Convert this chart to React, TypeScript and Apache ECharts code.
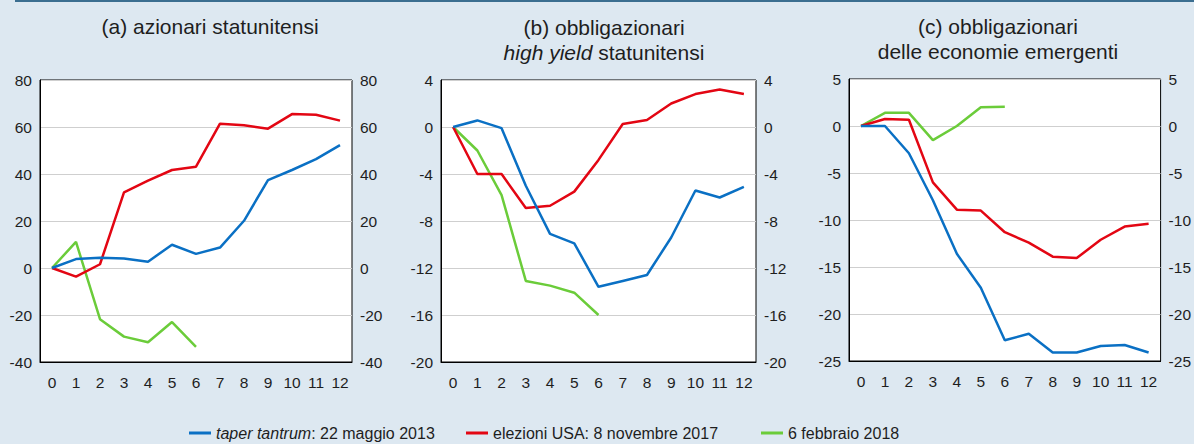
import React, { useEffect, useRef } from "react";
import * as echarts from "echarts";

const categories = ["0", "1", "2", "3", "4", "5", "6", "7", "8", "9", "10", "11", "12"];

const seriesNames = [
  "taper tantrum: 22 maggio 2013",
  "elezioni USA: 8 novembre 2017",
  "6 febbraio 2018",
];

// (a) azionari statunitensi
const aTaper = [0, 3.8, 4.4, 4.0, 2.7, 9.9, 6.0, 8.7, 20.1, 37.4, 41.7, 46.3, 52.3];
const aElezioni = [0, -3.7, 1.6, 32.2, 37.2, 41.7, 43.1, 61.4, 60.7, 59.3, 65.5, 65.2, 62.7];
const aFebbraio = [0, 11.1, -21.8, -29.2, -31.6, -23.0, -33.6];

// (b) obbligazionari high yield statunitensi
const bTaper = [0, 0.56, -0.1, -5.0, -9.1, -9.9, -13.6, -13.1, -12.6, -9.4, -5.4, -6.0, -5.1];
const bElezioni = [0, -4.0, -4.0, -6.9, -6.7, -5.5, -2.8, 0.25, 0.6, 2.0, 2.8, 3.2, 2.8];
const bFebbraio = [0, -2.0, -5.8, -13.1, -13.5, -14.1, -16.0];

// (c) obbligazionari delle economie emergenti
const cTaper = [0, 0, -2.9, -7.9, -13.6, -17.2, -22.8, -22.1, -24.1, -24.1, -23.4, -23.3, -24.1];
const cElezioni = [0, 0.75, 0.67, -6.0, -8.9, -9.0, -11.3, -12.4, -13.9, -14.05, -12.1, -10.7, -10.4];
const cFebbraio = [0, 1.4, 1.4, -1.5, 0, 2.0, 2.05];

const axisRanges = [
  { min: -40, max: 80, interval: 20 },
  { min: -20, max: 4, interval: 4 },
  { min: -25, max: 5, interval: 5 },
];

const colors = ["#0a70c4", "#e30613", "#6bcc3a"];
const FONT = "'Liberation Sans', Arial, Helvetica, sans-serif";
const TXT = "#1e1e1e";

export default function App() {
  const ref = useRef<HTMLDivElement>(null);

  useEffect(() => {
    if (!ref.current) return;
    const chart = echarts.init(ref.current, undefined, { renderer: "svg" });

    const grids = [
      { left: 40, top: 80, width: 312, height: 282 },
      { left: 441, top: 80, width: 315, height: 282 },
      { left: 849, top: 79, width: 314, height: 282 },
    ].map((g) => ({
      ...g,
      show: true,
      backgroundColor: "#ffffff",
      borderColor: "#000000",
      borderWidth: 1,
    }));

    const KF = 15.5;
    const xAxes = grids.map((_, i) => ({
      type: "category",
      gridIndex: i,
      data: categories,
      axisLine: { onZero: false, lineStyle: { color: "#000", width: 1 } },
      axisTick: { inside: true, length: 5, lineStyle: { color: "#000" } },
      axisLabel: { color: TXT, fontSize: KF, fontFamily: FONT, margin: 12 },
      splitLine: { show: false },
    }));

    const yAxes: any[] = [];
    grids.forEach((_, i) => {
      const r = axisRanges[i];
      yAxes.push({
        type: "value",
        gridIndex: i,
        position: "left",
        min: r.min,
        max: r.max,
        interval: r.interval,
        axisLine: { show: true, lineStyle: { color: "#000" } },
        axisTick: { show: false },
        axisLabel: { color: TXT, fontSize: KF, fontFamily: FONT, margin: 8 },
        splitLine: { show: true, lineStyle: { color: "#cfcfcf", width: 1 } },
      });
      yAxes.push({
        type: "value",
        gridIndex: i,
        position: "right",
        min: r.min,
        max: r.max,
        interval: r.interval,
        axisLine: { show: false },
        axisTick: { show: false },
        axisLabel: { color: TXT, fontSize: KF, fontFamily: FONT, margin: 8 },
        splitLine: { show: false },
      });
    });

    const panelData = [
      [aTaper, aElezioni, aFebbraio],
      [bTaper, bElezioni, bFebbraio],
      [cTaper, cElezioni, cFebbraio],
    ];

    const series: any[] = [];
    panelData.forEach((sets, p) => {
      sets.forEach((d, s) => {
        series.push({
          type: "line",
          name: seriesNames[s],
          xAxisIndex: p,
          yAxisIndex: p * 2,
          data: d,
          showSymbol: false,
          symbol: "none",
          lineStyle: { color: colors[s], width: 2.5 },
          itemStyle: { color: colors[s] },
          z: 3 - s,
        });
      });
    });

    const LF = 16;
    const legendBase = {
      top: 425,
      padding: 0,
      icon: "rect",
      itemWidth: 22,
      itemHeight: 3,
      selectedMode: false,
      textStyle: {
        color: TXT,
        fontSize: LF,
        fontFamily: FONT,
        rich: {
          i: { fontStyle: "italic", fontSize: LF, fontFamily: FONT, color: TXT },
          n: { fontSize: LF, fontFamily: FONT, color: TXT },
        },
      },
    };

    const TF = 21;
    const titleStyle = { fill: TXT, fontSize: TF, fontFamily: FONT, align: "center", verticalAlign: "middle" };

    chart.setOption({
      animation: false,
      backgroundColor: "#dde8f1",
      grid: grids,
      xAxis: xAxes,
      yAxis: yAxes,
      series,
      legend: [
        {
          ...legendBase,
          left: 189,
          data: [seriesNames[0]],
          formatter: () => "{i|taper tantrum}{n|: 22 maggio 2013}",
        },
        { ...legendBase, left: 466, data: [seriesNames[1]] },
        { ...legendBase, left: 761, data: [seriesNames[2]] },
      ],
      graphic: [
        {
          type: "line",
          shape: { x1: 15, y1: 1, x2: 1194, y2: 1 },
          style: { stroke: "#3b6e90", lineWidth: 2 },
        },
        { type: "text", x: 210, y: 26, style: { ...titleStyle, text: "(a) azionari statunitensi" } },
        { type: "text", x: 604, y: 27, style: { ...titleStyle, text: "(b) obbligazionari" } },
        {
          type: "text",
          x: 604,
          y: 52,
          style: {
            ...titleStyle,
            text: "{i|high yield} statunitensi",
            rich: { i: { fontStyle: "italic", fontSize: TF, fontFamily: FONT, fill: TXT } },
          },
        },
        { type: "text", x: 998, y: 26, style: { ...titleStyle, text: "(c) obbligazionari" } },
        { type: "text", x: 998, y: 51, style: { ...titleStyle, text: "delle economie emergenti" } },
      ],
    });

    return () => chart.dispose();
  }, []);

  return (
    <div
      ref={ref}
      style={{ position: "fixed", left: 0, top: 0, width: 1194, height: 444 }}
    />
  );
}
